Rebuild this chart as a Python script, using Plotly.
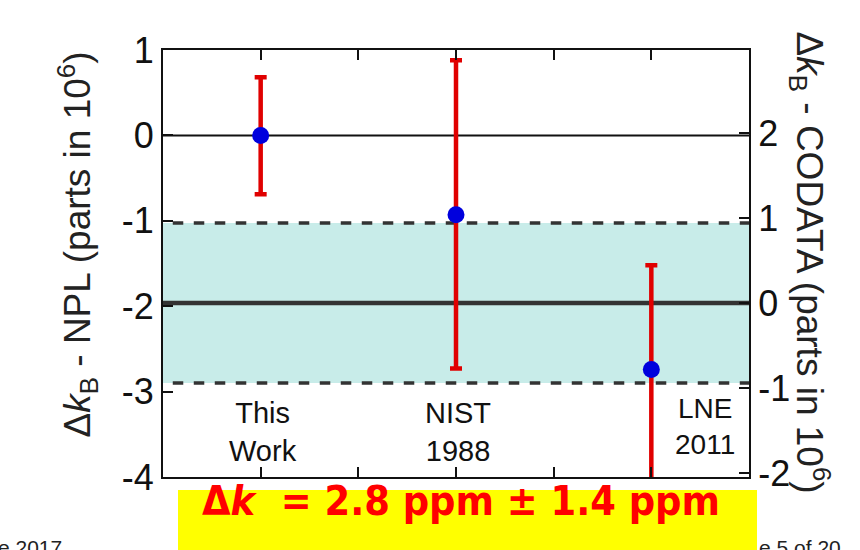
import plotly.graph_objects as go

# ---- data ----
categories = ["This<br>Work", "NIST<br>1988", "LNE<br>2011"]
x_pos = [1, 3, 5]
values = [0.0, -0.93, -2.74]
err_plus = [0.68, 1.81, 1.22]
err_minus = [0.69, 1.80, 1.30]
codata_center = 0.0          # on right axis
codata_band = 0.94           # half width, right axis
left_ticks = [1, 0, -1, -2, -3, -4]
right_ticks = [2, 1, 0, -1, -2]
x_ticks = [0, 1, 2, 3, 4, 5, 6]

FONT = "Liberation Sans, Arial, sans-serif"
fig = go.Figure()

# dummy trace for right axis
fig.add_trace(go.Scatter(x=[0], y=[0], yaxis="y2", mode="markers",
                         marker=dict(opacity=0), showlegend=False, hoverinfo="skip"))

fig.add_trace(go.Scatter(
    x=x_pos, y=values, mode="markers",
    marker=dict(color="#0000dd", size=17),
    error_y=dict(type="data", array=err_plus, arrayminus=err_minus,
                 color="#e00000", thickness=4.5, width=6),
    showlegend=False))

shapes = []
# band
shapes.append(dict(type="rect", xref="x", yref="y2", x0=0, x1=6,
                   y0=codata_center - codata_band, y1=codata_center + codata_band,
                   fillcolor="#c8ece9", line=dict(width=0), layer="below"))
for yy in [codata_center - codata_band, codata_center + codata_band]:
    shapes.append(dict(type="line", xref="x", yref="y2", x0=0.1, x1=6, y0=yy, y1=yy,
                       line=dict(color="#333333", width=3.5, dash="dash"), layer="below"))
shapes.append(dict(type="line", xref="x", yref="y2", x0=0, x1=6,
                   y0=codata_center, y1=codata_center,
                   line=dict(color="#333333", width=4.5), layer="below"))
shapes.append(dict(type="line", xref="x", yref="y", x0=0, x1=6, y0=0, y1=0,
                   line=dict(color="#111111", width=2), layer="below"))
# yellow box
shapes.append(dict(type="rect", xref="paper", yref="paper",
                   x0=(178 - 163) / 586, x1=(757 - 163) / 586,
                   y0=(477 - 560) / 427, y1=(477 - 490) / 427,
                   fillcolor="#ffff00", line=dict(width=0), layer="above"))

annotations = []
for xp, lab in zip(x_pos, categories):
    if xp == 5:
        annotations.append(dict(x=5.55, y=-3.41, text=lab, showarrow=False,
                                font=dict(size=28, color="#111", family=FONT)))
    else:
        annotations.append(dict(x=xp + 0.02, y=-3.47, text=lab, showarrow=False,
                                font=dict(size=29, color="#111", family=FONT)))

annotations.append(dict(xref="paper", yref="paper", x=(50 - 163) / 586, y=(477 - 245) / 427,
                        text="Δ<i>k</i><sub>B</sub> - NPL (parts in 10<sup>6</sup>)",
                        textangle=-90, showarrow=False,
                        font=dict(size=37, color="#222", family=FONT)))
annotations.append(dict(xref="paper", yref="paper", x=(838 - 163) / 586, y=(477 - 262) / 427,
                        text="Δ<i>k</i><sub>B</sub> - CODATA (parts in 10<sup>6</sup>)",
                        textangle=90, showarrow=False,
                        font=dict(size=37, color="#222", family=FONT)))
annotations.append(dict(xref="paper", yref="paper", x=(461 - 163) / 586, y=(477 - 527) / 427,
                        text="<b>Δ<i>k</i>  = 2.8 ppm ± 1.4 ppm</b>", showarrow=False,
                        font=dict(size=41, color="#ff0000",
                                  family="DejaVu Sans Condensed, DejaVu Sans, sans-serif")))
annotations.append(dict(xref="paper", yref="paper", x=(-4 - 163) / 586, y=(477 - 534) / 427,
                        text="e 2017", showarrow=False, xanchor="left", yanchor="top",
                        font=dict(size=21, color="#222", family=FONT)))
annotations.append(dict(xref="paper", yref="paper", x=(757 - 163) / 586, y=(477 - 534) / 427,
                        text="e 5 of 20", showarrow=False, xanchor="left", yanchor="top",
                        font=dict(size=21, color="#222", family=FONT)))

fig.update_layout(
    width=860, height=550,
    margin=dict(l=163, r=111, t=50, b=73),
    paper_bgcolor="white", plot_bgcolor="white",
    shapes=shapes, annotations=annotations,
    xaxis=dict(range=[0, 6], tickvals=x_ticks, showticklabels=False,
               ticks="inside", ticklen=10, tickwidth=2, tickcolor="#111",
               showgrid=False, zeroline=False, showline=True, linewidth=2,
               linecolor="#111", mirror="ticks"),
    yaxis=dict(range=[-4, 1], tickvals=left_ticks, ticktext=[str(t) for t in left_ticks],
               ticks="inside", ticklen=10,
               tickwidth=2, tickcolor="#111", showgrid=False, zeroline=False,
               showline=True, linewidth=2, linecolor="#111",
               tickfont=dict(size=36, color="#111", family=FONT)),
    yaxis2=dict(range=[-2.047, 2.976], overlaying="y", side="right",
                tickvals=right_ticks, ticktext=[str(t) for t in right_ticks],
                ticks="inside", ticklen=10, tickwidth=2,
                tickcolor="#111", showgrid=False, zeroline=False,
                showline=True, linewidth=2, linecolor="#111",
                tickfont=dict(size=36, color="#111", family=FONT)),
)

fig.write_html("out.html")
